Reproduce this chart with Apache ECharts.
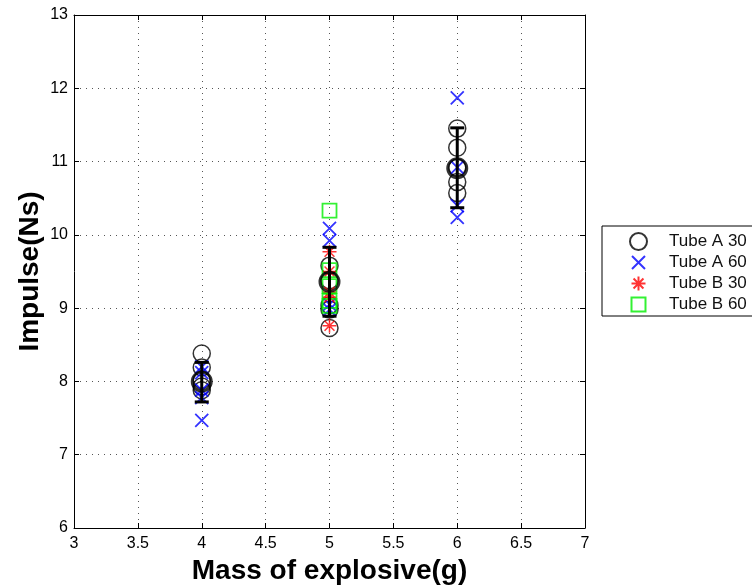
<!DOCTYPE html>
<html>
<head>
<meta charset="utf-8">
<script src="https://cdn.jsdelivr.net/npm/echarts/dist/echarts.min.js"></script>
<style>
  html, body { margin: 0; padding: 0; background: #fff; }
  #chart { width: 752px; height: 586px; }
</style>
</head>
<body>
<div id="chart"></div>
<script>
// Impulse measurements (Ns) by explosive mass (g) for each tube / setting
const tubeA30Mass = [4, 4, 4, 4, 4, 5, 5, 5, 5, 5, 6, 6, 6, 6, 6];
const tubeA30Impulse = [8.38, 8.19, 8.02, 7.93, 7.88, 9.58, 9.38, 9.04, 8.98, 8.73, 11.45, 11.19, 10.92, 10.72, 10.57];

const tubeA60Mass = [4, 4, 4, 4, 4, 5, 5, 5, 5, 6, 6, 6, 6];
const tubeA60Impulse = [8.2, 8.12, 7.88, 7.78, 7.47, 10.09, 9.92, 9.05, 8.98, 11.87, 10.92, 10.4, 10.24];

const tubeB30Mass = [5, 5, 5, 5, 5];
const tubeB30Impulse = [9.77, 9.5, 9.22, 9.15, 8.76];

const tubeB60Mass = [5, 5, 5, 5, 5];
const tubeB60Impulse = [10.33, 9.52, 9.3, 9.1, 9.03];

// Mean impulse per mass with its spread (lower / upper bar ends)
const meanMass = [4, 5, 6];
const meanImpulse = [8.0, 9.36, 10.91];
const barLow = [7.72, 8.89, 10.37];
const barHigh = [8.26, 9.83, 11.46];

const legendNames = ['Tube A 30', 'Tube A 60', 'Tube B 30', 'Tube B 60'];
const xTicks = { min: 3, max: 7, interval: 0.5 };
const yTicks = { min: 6, max: 13, interval: 1 };

const FONT = 'Liberation Sans, Arial, Helvetica, sans-serif';
const pairs = (xs, ys) => xs.map((x, i) => [x, ys[i]]);

// Stroke-only marker outlines drawn inside a 17x17 box (the leading moves fix the box)
const crossPath = 'path://M0,0M17,17M2,2L15,15M15,2L2,15';
const starPath = 'path://M0,0M17,17M8.5,1.5L8.5,15.5M1.5,8.5L15.5,8.5M3.55,3.55L13.45,13.45M13.45,3.55L3.55,13.45';
const squarePath = 'path://M0,0M17,17M1.5,1.5L15.5,1.5L15.5,15.5L1.5,15.5Z';

const gridLine = { show: true, lineStyle: { color: '#555', width: 1, type: [1, 5] } };
const axisLineStyle = { onZero: false, lineStyle: { color: '#000', width: 1 } };
const tickStyle = { show: true, inside: true, length: 5, lineStyle: { color: '#000', width: 1 } };
const tickLabel = { color: '#000', fontSize: 16, fontFamily: FONT };
const titleStyle = { fontFamily: FONT, fontSize: 28, fontWeight: 'bold', color: '#000' };

const chart = echarts.init(document.getElementById('chart'), null, { renderer: 'canvas' });

chart.setOption({
  animation: false,
  backgroundColor: '#fff',
  textStyle: { fontFamily: FONT },
  grid: { left: 74, right: 167, top: 15, bottom: 58, containLabel: false, outerBoundsMode: 'none' },
  legend: {
    orient: 'vertical',
    left: 602,
    top: 226,
    data: legendNames,
    itemWidth: 51,
    itemHeight: 17,
    itemGap: 2,
    padding: [6, 40, 2, 27],
    backgroundColor: '#fff',
    borderColor: '#000',
    borderWidth: 1,
    borderRadius: 0,
    textStyle: { fontFamily: FONT, fontSize: 17, color: '#111' }
  },
  xAxis: [
    {
      type: 'value', position: 'bottom', ...xTicks,
      name: 'Mass of explosive(g)', nameLocation: 'middle', nameGap: 28,
      nameTextStyle: titleStyle,
      axisLine: axisLineStyle, axisTick: tickStyle,
      axisLabel: { ...tickLabel, margin: 8 },
      splitLine: gridLine
    },
    {
      type: 'value', position: 'top', ...xTicks,
      axisLine: axisLineStyle, axisTick: tickStyle,
      axisLabel: { show: false }, splitLine: { show: false }
    }
  ],
  yAxis: [
    {
      type: 'value', position: 'left', ...yTicks,
      name: 'Impulse(Ns)', nameLocation: 'middle', nameGap: 30, nameMoveOverlap: false,
      nameTextStyle: titleStyle,
      axisLine: axisLineStyle, axisTick: tickStyle,
      axisLabel: { ...tickLabel, margin: 6 },
      splitLine: gridLine
    },
    {
      type: 'value', position: 'right', ...yTicks,
      axisLine: axisLineStyle, axisTick: tickStyle,
      axisLabel: { show: false }, splitLine: { show: false }
    }
  ],
  series: [
    {
      name: 'Tube A 30', type: 'scatter', data: pairs(tubeA30Mass, tubeA30Impulse),
      symbol: 'circle', symbolSize: 17,
      itemStyle: { color: 'transparent', borderColor: '#000', borderWidth: 1.5 },
      z: 2
    },
    {
      name: 'Tube A 60', type: 'scatter', data: pairs(tubeA60Mass, tubeA60Impulse),
      symbol: crossPath, symbolSize: 17, symbolKeepAspect: true,
      itemStyle: { color: 'transparent', borderColor: '#0000ff', borderWidth: 1.8 },
      z: 3
    },
    {
      name: 'Tube B 30', type: 'scatter', data: pairs(tubeB30Mass, tubeB30Impulse),
      symbol: starPath, symbolSize: 17, symbolKeepAspect: true,
      itemStyle: { color: 'transparent', borderColor: '#ff0000', borderWidth: 1.5 },
      z: 3
    },
    {
      name: 'Tube B 60', type: 'scatter', data: pairs(tubeB60Mass, tubeB60Impulse),
      symbol: squarePath, symbolSize: 17, symbolKeepAspect: true,
      itemStyle: { color: 'transparent', borderColor: '#00ee00', borderWidth: 1.8 },
      z: 3
    },
    {
      name: 'spread', type: 'custom',
      data: meanMass.map((m, i) => [m, barLow[i], barHigh[i]]),
      encode: { x: 0, y: [1, 2] },
      z: 5,
      renderItem: function (params, api) {
        const x = api.value(0);
        const lo = api.coord([x, api.value(1)]);
        const hi = api.coord([x, api.value(2)]);
        const cap = 7;
        const st = { stroke: '#000', lineWidth: 3 };
        return {
          type: 'group',
          children: [
            { type: 'line', shape: { x1: lo[0], y1: lo[1], x2: hi[0], y2: hi[1] }, style: st },
            { type: 'line', shape: { x1: lo[0] - cap, y1: lo[1], x2: lo[0] + cap, y2: lo[1] }, style: st },
            { type: 'line', shape: { x1: hi[0] - cap, y1: hi[1], x2: hi[0] + cap, y2: hi[1] }, style: st }
          ]
        };
      }
    },
    {
      name: 'mean', type: 'scatter', data: pairs(meanMass, meanImpulse),
      symbol: 'circle', symbolSize: 19,
      itemStyle: { color: 'transparent', borderColor: '#000', borderWidth: 3 },
      z: 6
    }
  ]
});
</script>
</body>
</html>
